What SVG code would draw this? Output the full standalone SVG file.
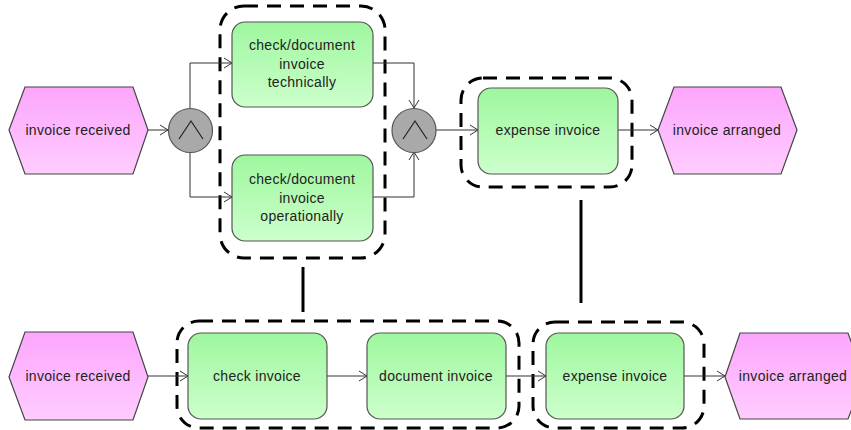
<svg xmlns="http://www.w3.org/2000/svg" width="851" height="430" viewBox="0 0 851 430">
<defs>
<linearGradient id="gF" x1="0" y1="0" x2="0" y2="1"><stop offset="0" stop-color="#9ef79e"/><stop offset="1" stop-color="#ccffcc"/></linearGradient>
<linearGradient id="gE" x1="0" y1="0" x2="0" y2="1"><stop offset="0" stop-color="#fca6fc"/><stop offset="1" stop-color="#ffccff"/></linearGradient>
<marker id="arr" markerWidth="10" markerHeight="12" refX="9" refY="6" orient="auto" markerUnits="userSpaceOnUse"><path d="M1,1 L9,6 L1,11" fill="none" stroke="#333" stroke-width="1"/></marker>
<style>
.fn{fill:url(#gF);stroke:#555;stroke-width:1.2}
.ev{fill:url(#gE);stroke:#444;stroke-width:1.2}
.and{fill:#a9a9a9;stroke:#555;stroke-width:1.2}
.sym{fill:none;stroke:#222;stroke-width:1.2}
.grp{fill:none;stroke:#000;stroke-width:3;stroke-dasharray:14 9}
.con{fill:none;stroke:#333;stroke-width:1}
.arr{marker-end:url(#arr)}
.link{stroke:#000;stroke-width:3}
text{font-family:"Liberation Sans",Arial,sans-serif;font-size:14px;letter-spacing:0.3px;fill:#222;text-anchor:middle}
</style>
</defs>
<g id="groups">
<rect class="grp" x="220" y="6" width="165" height="252" rx="24"/>
<rect class="grp" x="461" y="78" width="171" height="109" rx="22"/>
<rect class="grp" x="177" y="321" width="342" height="107" rx="22"/>
<rect class="grp" x="533" y="322" width="171" height="106" rx="22"/>
</g>
<g id="connectors">
<line class="con arr" x1="148" y1="130" x2="168" y2="130"/>
<polyline class="con arr" points="190,109 190,63 232,63"/>
<polyline class="con arr" points="190,152 190,197 232,197"/>
<polyline class="con arr" points="373,63 414,63 414,108"/>
<polyline class="con arr" points="373,197 414,197 414,152"/>
<line class="con arr" x1="436" y1="130" x2="478" y2="130"/>
<line class="con arr" x1="618" y1="130" x2="658" y2="130"/>
<line class="con arr" x1="148" y1="376" x2="188" y2="376"/>
<line class="con arr" x1="327" y1="376" x2="367" y2="376"/>
<line class="con arr" x1="506" y1="376" x2="546" y2="376"/>
<line class="con arr" x1="684" y1="376" x2="725" y2="376"/>
<line class="link" x1="303" y1="267" x2="303" y2="312"/>
<line class="link" x1="581" y1="200" x2="581" y2="303"/>
</g>
<g id="ev1">
<polygon class="ev" points="9,130 25,87 133,87 148,130 133,174 25,174"/>
<text x="78" y="135">invoice received</text>
</g>
<g id="and1">
<circle class="and" cx="190.5" cy="130.5" r="22"/>
<polyline class="sym" points="179,139 191,121 203,139"/>
</g>
<g id="fn1">
<rect class="fn" x="232" y="22" width="141" height="85" rx="13"/>
<text x="302" y="50">check/document</text>
<text x="302" y="69">invoice</text>
<text x="302" y="87">technically</text>
</g>
<g id="fn2">
<rect class="fn" x="232" y="155" width="141" height="86" rx="13"/>
<text x="302" y="184">check/document</text>
<text x="302" y="203">invoice</text>
<text x="302" y="221">operationally</text>
</g>
<g id="and2">
<circle class="and" cx="414" cy="130.5" r="22"/>
<polyline class="sym" points="403,139 415,121 427,139"/>
</g>
<g id="fn3">
<rect class="fn" x="478" y="88" width="140" height="86" rx="13"/>
<text x="548" y="135">expense invoice</text>
</g>
<g id="ev2">
<polygon class="ev" points="658,130 674,87 781,87 797,130 781,174 674,174"/>
<text x="727" y="135">invoice arranged</text>
</g>
<g id="ev3">
<polygon class="ev" points="9,377 25,332 133,332 148,377 133,420 25,420"/>
<text x="78" y="381">invoice received</text>
</g>
<g id="fn4">
<rect class="fn" x="188" y="333" width="139" height="86" rx="13"/>
<text x="257" y="381">check invoice</text>
</g>
<g id="fn5">
<rect class="fn" x="367" y="333" width="139" height="86" rx="13"/>
<text x="436" y="381">document invoice</text>
</g>
<g id="fn6">
<rect class="fn" x="546" y="333" width="138" height="86" rx="13"/>
<text x="615" y="381">expense invoice</text>
</g>
<g id="ev4">
<polygon class="ev" points="725,377 740,333 848,333 864,377 848,419 740,419"/>
<text x="793" y="381">invoice arranged</text>
</g>
</svg>
